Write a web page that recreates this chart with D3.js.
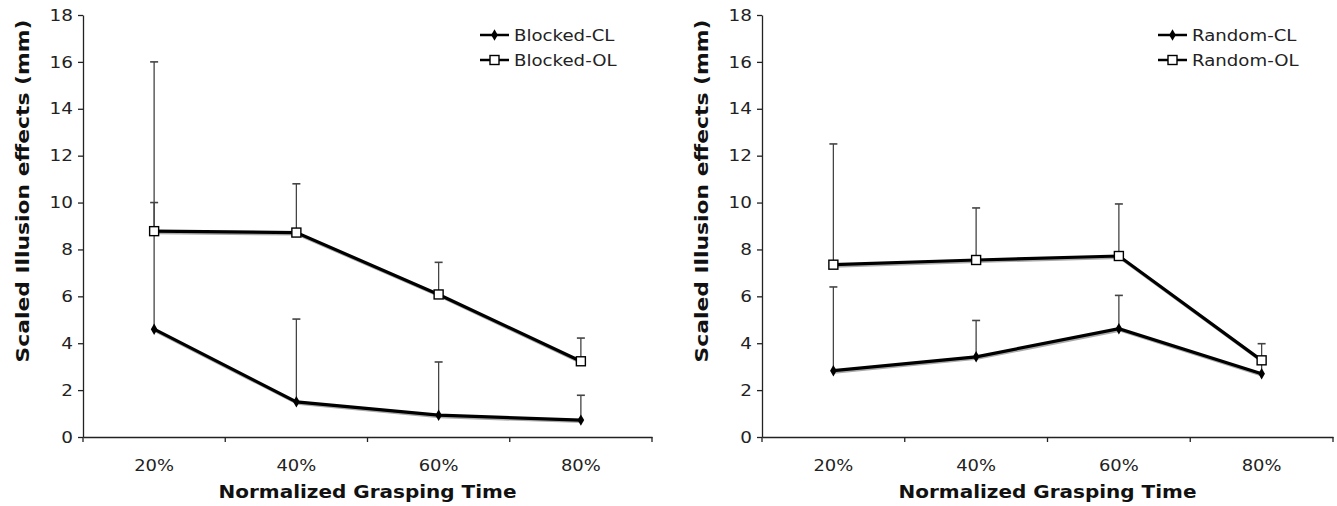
<!DOCTYPE html>
<html>
<head>
<meta charset="utf-8">
<script src="https://cdn.jsdelivr.net/npm/d3@7"></script>
<style>
  body { margin: 0; background: #fff; }
  text { font-family: "DejaVu Sans", Verdana, sans-serif; fill: #222; }
</style>
</head>
<body>
<svg id="vis" width="1337" height="506"></svg>
<script>
// data
const categories = ["20%", "40%", "60%", "80%"];
const yTicks = [0, 2, 4, 6, 8, 10, 12, 14, 16, 18];

const blockedCL = [4.6, 1.5, 0.93, 0.72];
const blockedCLErr = [5.4, 3.53, 2.27, 1.06];
const blockedOL = [8.78, 8.72, 6.08, 3.23];
const blockedOLErr = [7.22, 2.08, 1.37, 0.99];

const randomCL = [2.83, 3.42, 4.62, 2.7];
const randomCLErr = [3.57, 1.55, 1.42, 0.5];
const randomOL = [7.35, 7.55, 7.72, 3.27];
const randomOLErr = [5.15, 2.22, 2.22, 0.71];

const svg = d3.select("#vis");

const panels = [
  { x0: 83, x1: 652, titleX: 22, legendX: 480,
    series: [
      { name: "Blocked-CL", values: blockedCL, err: blockedCLErr, marker: "diamond" },
      { name: "Blocked-OL", values: blockedOL, err: blockedOLErr, marker: "square" }
    ] },
  { x0: 762, x1: 1333, titleX: 701, legendX: 1158,
    series: [
      { name: "Random-CL", values: randomCL, err: randomCLErr, marker: "diamond" },
      { name: "Random-OL", values: randomOL, err: randomOLErr, marker: "square" }
    ] }
];

const y = d3.scaleLinear().domain([0, 18]).range([437, 15]);

// the original text is a bit wider than DejaVu, stretch it
function stretch(sel, f) {
  sel.each(function () {
    const w = this.getComputedTextLength();
    d3.select(this).attr("textLength", w * f).attr("lengthAdjust", "spacingAndGlyphs");
  });
}

function drawMarker(g, type, cx, cy) {
  if (type === "diamond") {
    g.append("path")
      .attr("d", d3.symbol(d3.symbolDiamond, 38)())
      .attr("transform", `translate(${cx},${cy})`)
      .attr("fill", "#000");
  } else {
    g.append("rect")
      .attr("x", cx - 4.5).attr("y", cy - 4.5)
      .attr("width", 9).attr("height", 9)
      .attr("fill", "#fff")
      .attr("stroke", "#000")
      .attr("stroke-width", 1.4);
  }
}

panels.forEach(p => {
  const g = svg.append("g");

  const x = d3.scaleBand().domain(categories).range([p.x0, p.x1]);
  const cx = d => x(d) + x.bandwidth() / 2;

  // y axis
  g.append("g")
    .attr("transform", `translate(${p.x0},0)`)
    .call(d3.axisLeft(y).tickValues(yTicks).tickSize(5).tickSizeOuter(0).tickPadding(5))
    .call(a => a.selectAll("text").style("font-size", "16px").call(stretch, 1.15))
    .call(a => a.selectAll("line,path").attr("stroke", "#222").attr("stroke-width", 1.3));

  // x axis labels
  g.append("g")
    .attr("transform", `translate(0,${y(0)})`)
    .call(d3.axisBottom(x).tickSize(0).tickSizeOuter(0).tickPadding(23))
    .call(a => a.selectAll("text").style("font-size", "16px").call(stretch, 1.12))
    .call(a => a.select(".domain").attr("stroke", "#222").attr("stroke-width", 1.3));

  // ticks between categories
  const bounds = categories.map(c => x(c)).concat([p.x1]);
  g.selectAll(".btick").data(bounds).join("line")
    .attr("x1", d => d).attr("x2", d => d)
    .attr("y1", y(0)).attr("y2", y(0) + 5)
    .attr("stroke", "#222").attr("stroke-width", 1.3);

  // axis titles
  g.append("text")
    .attr("transform", `translate(${p.titleX},191) rotate(-90)`)
    .attr("text-anchor", "middle")
    .attr("dominant-baseline", "central")
    .attr("textLength", 343).attr("lengthAdjust", "spacingAndGlyphs")
    .style("font-size", "18px").style("font-weight", "bold").style("fill", "#111")
    .text("Scaled Illusion effects (mm)");

  g.append("text")
    .attr("x", (p.x0 + p.x1) / 2).attr("y", 498)
    .attr("text-anchor", "middle")
    .attr("textLength", 298).attr("lengthAdjust", "spacingAndGlyphs")
    .style("font-size", "17.5px").style("font-weight", "bold").style("fill", "#111")
    .text("Normalized Grasping Time");

  const line = d3.line().x((d, i) => cx(categories[i])).y(d => y(d));

  p.series.forEach(s => {
    // error bars (upper only)
    s.values.forEach((v, i) => {
      const xx = cx(categories[i]);
      const top = y(v + s.err[i]);
      g.append("line").attr("x1", xx).attr("x2", xx).attr("y1", y(v)).attr("y2", top)
        .attr("stroke", "#444").attr("stroke-width", 1.3);
      g.append("line").attr("x1", xx - 4).attr("x2", xx + 4).attr("y1", top).attr("y2", top)
        .attr("stroke", "#444").attr("stroke-width", 1.6);
    });
  });

  p.series.forEach((s, k) => {
    // shadow + line
    g.append("path").datum(s.values)
      .attr("d", line).attr("fill", "none")
      .attr("stroke", "#aaa").attr("stroke-width", 3)
      .attr("transform", "translate(1,1.5)");
    g.append("path").datum(s.values)
      .attr("d", line).attr("fill", "none")
      .attr("stroke", "#000").attr("stroke-width", 3.2);
    s.values.forEach((v, i) => drawMarker(g, s.marker, cx(categories[i]), y(v)));

    // legend
    const ly = 35 + k * 25;
    g.append("line")
      .attr("x1", p.legendX).attr("x2", p.legendX + 29)
      .attr("y1", ly).attr("y2", ly)
      .attr("stroke", "#000").attr("stroke-width", 2.5);
    drawMarker(g, s.marker, p.legendX + 14.5, ly);
    g.append("text")
      .attr("x", p.legendX + 34).attr("y", ly)
      .attr("dominant-baseline", "central")
      .style("font-size", "16.5px")
      .text(s.name)
      .call(stretch, 1.1);
  });
});
</script>
</body>
</html>
